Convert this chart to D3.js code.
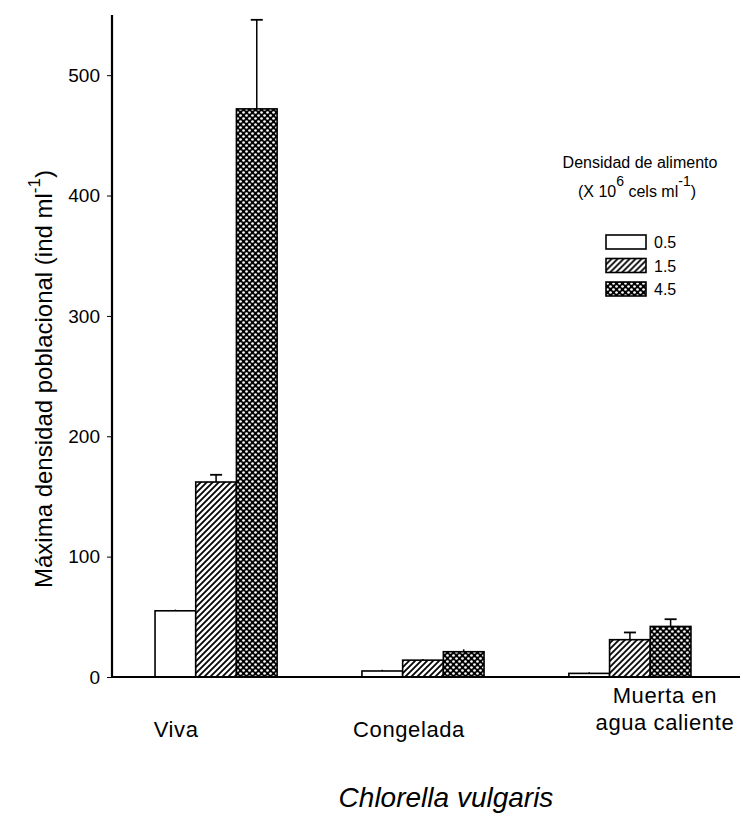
<!DOCTYPE html>
<html>
<head>
<meta charset="utf-8">
<script src="https://cdn.jsdelivr.net/npm/d3@7"></script>
<style>
  body { margin: 0; background: #fff; }
  text { font-family: "Liberation Sans", Arial, sans-serif; fill: #000; }
</style>
</head>
<body>
<script>
// data
const categories = ['Viva', 'Congelada', 'Muerta en agua caliente'];
const densities = ['0.5', '1.5', '4.5'];
const means = [
    [55, 162, 472],
    [5, 14, 21],
    [3, 31, 42]
];
const errors = [
    [1, 6, 74],
    [1, 1, 2],
    [1, 6, 6]
];
const yTicks = [0, 100, 200, 300, 400, 500];

const width = 743,
    height = 816;

const svg = d3.select('body')
    .append('svg')
    .attr('width', width)
    .attr('height', height);

const defs = svg.append('defs');

// diagonal hatching
const hatch = defs.append('pattern')
    .attr('id', 'hatch')
    .attr('patternUnits', 'userSpaceOnUse')
    .attr('width', 6)
    .attr('height', 6);
hatch.append('rect').attr('width', 6).attr('height', 6).attr('fill', '#fff');
hatch.append('path')
    .attr('d', 'M0,6 L6,0 M-1.5,1.5 L1.5,-1.5 M4.5,7.5 L7.5,4.5')
    .attr('stroke', '#000')
    .attr('stroke-width', 1.8);

// dense checked pattern: black ground with white dots
const dots = defs.append('pattern')
    .attr('id', 'dots')
    .attr('patternUnits', 'userSpaceOnUse')
    .attr('width', 6)
    .attr('height', 6);
dots.append('rect').attr('width', 6).attr('height', 6).attr('fill', '#000');
dots.append('circle').attr('cx', 1.5).attr('cy', 1.5).attr('r', 1.35).attr('fill', '#fff');
dots.append('circle').attr('cx', 4.5).attr('cy', 4.5).attr('r', 1.35).attr('fill', '#fff');

const fills = ['#fff', 'url(#hatch)', 'url(#dots)'];

const y = d3.scaleLinear()
    .domain([0, 550])
    .range([677, 15]);

const x0 = d3.scaleBand()
    .domain(categories)
    .range([112, 734])
    .paddingInner(0.41)
    .paddingOuter(0.208);

const x1 = d3.scaleBand()
    .domain(densities)
    .range([0, x0.bandwidth()])
    .padding(0);

// y axis
const yAxis = d3.axisLeft(y)
    .tickValues(yTicks)
    .tickSize(5)
    .tickPadding(7);

const gy = svg.append('g')
    .attr('transform', 'translate(112,0)')
    .call(yAxis);
gy.select('.domain').remove();
gy.selectAll('.tick line').attr('stroke', '#000').attr('stroke-width', 1);
gy.selectAll('.tick text')
    .style('font-size', '19px')
    .attr('fill', '#000');

svg.append('line')
    .attr('x1', 112).attr('x2', 112)
    .attr('y1', y(550)).attr('y2', y(0))
    .attr('stroke', '#000')
    .attr('stroke-width', 2.2);

// bars
const groups = svg.append('g')
    .selectAll('g')
    .data(categories)
    .enter().append('g')
    .attr('transform', d => 'translate(' + x0(d) + ',0)');

groups.each(function (cat, ci) {
    const g = d3.select(this);
    const rows = densities.map((dens, si) => ({
        dens: dens,
        si: si,
        v: means[ci][si],
        e: errors[ci][si]
    }));

    // error bars (upper only)
    g.selectAll('line.err')
        .data(rows)
        .enter().append('line')
        .attr('class', 'err')
        .attr('x1', d => x1(d.dens) + x1.bandwidth() / 2)
        .attr('x2', d => x1(d.dens) + x1.bandwidth() / 2)
        .attr('y1', d => y(d.v))
        .attr('y2', d => y(d.v + d.e))
        .attr('stroke', '#000')
        .attr('stroke-width', 1.5);

    g.selectAll('line.cap')
        .data(rows.filter(d => d.e > 2))
        .enter().append('line')
        .attr('class', 'cap')
        .attr('x1', d => x1(d.dens) + x1.bandwidth() / 2 - 6)
        .attr('x2', d => x1(d.dens) + x1.bandwidth() / 2 + 6)
        .attr('y1', d => y(d.v + d.e))
        .attr('y2', d => y(d.v + d.e))
        .attr('stroke', '#000')
        .attr('stroke-width', 1.8);

    g.selectAll('rect')
        .data(rows)
        .enter().append('rect')
        .attr('x', d => x1(d.dens))
        .attr('y', d => y(d.v))
        .attr('width', x1.bandwidth())
        .attr('height', d => y(0) - y(d.v))
        .attr('fill', d => fills[d.si])
        .attr('stroke', '#000')
        .attr('stroke-width', 1.6);
});

// baseline
svg.append('line')
    .attr('x1', 112).attr('x2', 740)
    .attr('y1', y(0)).attr('y2', y(0))
    .attr('stroke', '#000')
    .attr('stroke-width', 2.2);

// category labels (the original places them loosely under each group)
const labelShift = [-40, -14, 35];
const catLabels = svg.append('g')
    .selectAll('text')
    .data(categories)
    .enter().append('text')
    .attr('text-anchor', 'middle')
    .style('font-size', '22px')
    .style('letter-spacing', '0.6px');

catLabels.each(function (d, i) {
    const cx = x0(d) + x0.bandwidth() / 2 + labelShift[i];
    const t = d3.select(this);
    if (d === 'Muerta en agua caliente') {
        t.append('tspan').attr('x', cx).attr('y', 703).text('Muerta en');
        t.append('tspan').attr('x', cx).attr('y', 730).text('agua caliente');
    } else {
        t.attr('x', cx).attr('y', 737).text(d);
    }
});

// x title
svg.append('text')
    .attr('x', 446)
    .attr('y', 807)
    .attr('text-anchor', 'middle')
    .style('font-size', '28px')
    .style('font-style', 'italic')
    .text('Chlorella vulgaris');

// y title
const ytitle = svg.append('text')
    .attr('transform', 'translate(52,' + 379 + ') rotate(-90)')
    .attr('text-anchor', 'middle')
    .style('font-size', '24px');
ytitle.append('tspan').text('Máxima densidad poblacional (ind ml');
ytitle.append('tspan').attr('dy', -12).style('font-size', '17px').text('-1');
ytitle.append('tspan').attr('dy', 12).text(')');

// legend
const legend = svg.append('g');
legend.append('text')
    .attr('x', 640).attr('y', 168)
    .attr('text-anchor', 'middle')
    .style('font-size', '16px')
    .text('Densidad de alimento');

const sub = legend.append('text')
    .attr('x', 637).attr('y', 197)
    .attr('text-anchor', 'middle')
    .style('font-size', '16px');
sub.append('tspan').text('(X 10');
sub.append('tspan').attr('dy', -11).style('font-size', '14px').text('6');
sub.append('tspan').attr('dy', 11).text(' cels ml');
sub.append('tspan').attr('dy', -11).style('font-size', '14px').text('-1');
sub.append('tspan').attr('dy', 11).text(')');

const items = legend.selectAll('g.item')
    .data(densities)
    .enter().append('g')
    .attr('class', 'item')
    .attr('transform', (d, i) => 'translate(606,' + (235 + i * 23.5) + ')');

items.append('rect')
    .attr('width', 40)
    .attr('height', 14)
    .attr('fill', (d, i) => fills[i])
    .attr('stroke', '#000')
    .attr('stroke-width', 1.6);

items.append('text')
    .attr('x', 48)
    .attr('y', 13)
    .style('font-size', '16px')
    .text(d => d);
</script>
</body>
</html>
